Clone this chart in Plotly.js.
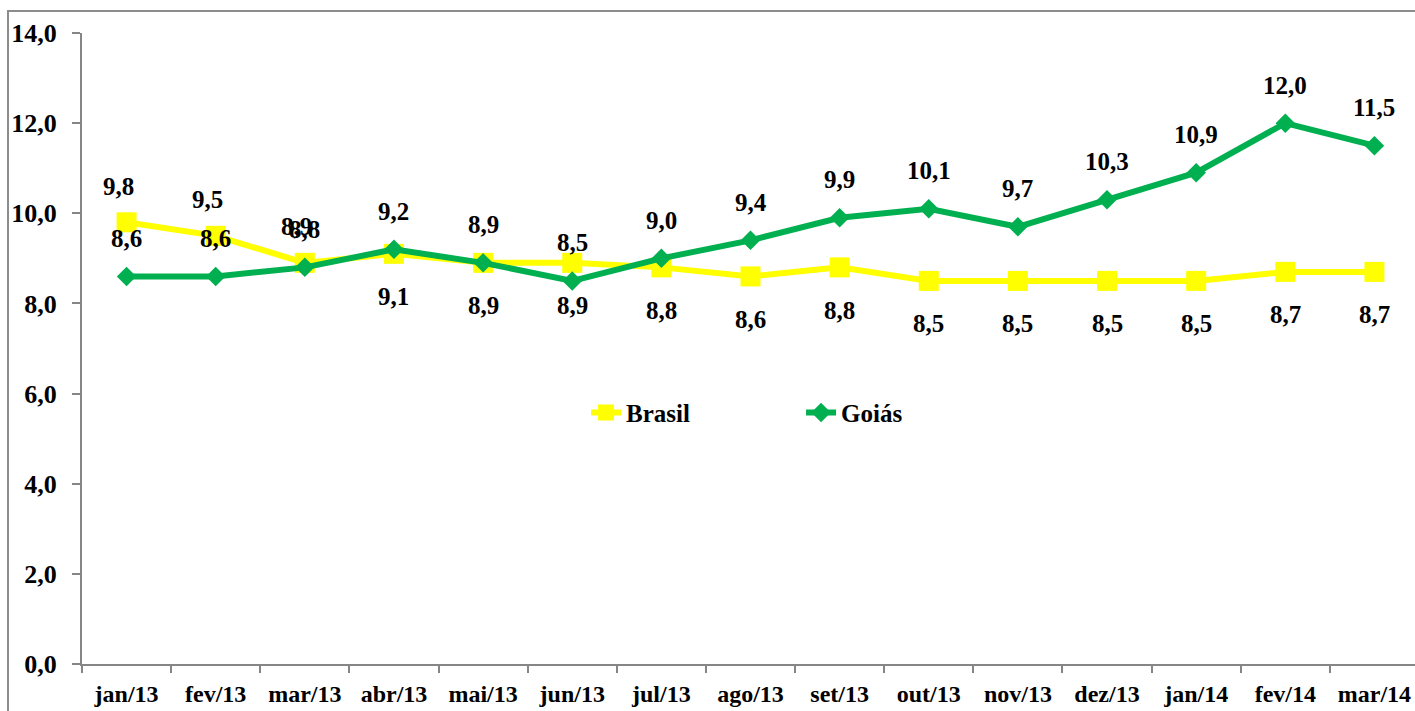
<!DOCTYPE html>
<html><head><meta charset="utf-8">
<script src="https://cdn.plot.ly/plotly-3.0.1.min.js"></script>
<style>
html,body{margin:0;padding:0;overflow:hidden;background:#fff;width:1415px;height:711px;}
#frame{position:absolute;left:7px;top:10px;width:1430px;height:740px;border:2px solid #8c8c8c;box-sizing:border-box;}
#chart{position:absolute;left:0;top:0;}
</style></head>
<body>
<div id="frame"></div>
<div id="chart"></div>
<script>
const months = ["jan/13","fev/13","mar/13","abr/13","mai/13","jun/13","jul/13","ago/13","set/13","out/13","nov/13","dez/13","jan/14","fev/14","mar/14"];
const brasil = [9.8,9.5,8.9,9.1,8.9,8.9,8.8,8.6,8.8,8.5,8.5,8.5,8.5,8.7,8.7];
const goias  = [8.6,8.6,8.8,9.2,8.9,8.5,9.0,9.4,9.9,10.1,9.7,10.3,10.9,12.0,11.5];
const brasilLabelAbove = [true,true,true,false,false,false,false,false,false,false,false,false,false,false,false];
const yTicks = [0,2,4,6,8,10,12,14];

const FONT = "Liberation Serif";
const fmt = v => v.toFixed(1).replace('.', ',');
const b = s => "<b>" + s + "</b>";

const traces = [
  {x: months, y: brasil, name: b("Brasil"), type: "scatter", mode: "lines+markers",
   line: {color: "#FFFF00", width: 6}, marker: {symbol: "square", size: 20, color: "#FFFF00"}},
  {x: months, y: goias, name: b("Goiás"), type: "scatter", mode: "lines+markers",
   line: {color: "#00B050", width: 6}, marker: {symbol: "diamond", size: 15, color: "#00B050"}}
];

const annotations = [];
months.forEach((m, i) => {
  const above = brasilLabelAbove[i];
  annotations.push({x: m, y: brasil[i], text: b(fmt(brasil[i])), showarrow: false,
    xshift: above ? -8 : 0, yshift: above ? 36 : -43,
    font: {family: FONT, size: 25, color: "#000"}});
  annotations.push({x: m, y: goias[i], text: b(fmt(goias[i])), showarrow: false,
    xshift: 0, yshift: 38,
    font: {family: FONT, size: 25, color: "#000"}});
});

const layout = {
  width: 1430, height: 740,
  margin: {l: 82, r: 11, t: 33, b: 76},
  paper_bgcolor: "rgba(0,0,0,0)", plot_bgcolor: "rgba(0,0,0,0)",
  font: {family: FONT, size: 24, color: "#000"},
  showlegend: true,
  legend: {orientation: "h", x: 0.377, y: 0.398, xanchor: "left", yanchor: "middle",
    font: {family: FONT, size: 25, color: "#000"}, bgcolor: "rgba(0,0,0,0)",
    entrywidth: 170, traceorder: "normal"},
  xaxis: {type: "category", range: [-0.5, 14.5], showgrid: false, zeroline: false,
    showline: true, linecolor: "#868686", linewidth: 2,
    ticks: "outside", tickson: "boundaries", ticklen: 7, tickcolor: "#868686", tickwidth: 2,
    tickvals: months, ticktext: months.map(b),
    tickfont: {family: FONT, size: 24, color: "#000"}, ticklabelstandoff: 7},
  yaxis: {range: [0, 14], showgrid: false, zeroline: false,
    showline: true, linecolor: "#868686", linewidth: 2,
    ticks: "outside", ticklen: 8, tickcolor: "#868686", tickwidth: 2,
    tickvals: yTicks, ticktext: yTicks.map(v => b(fmt(v))),
    tickfont: {family: FONT, size: 26, color: "#000"}, ticklabelstandoff: 10},
  annotations: annotations
};

Plotly.newPlot("chart", traces, layout, {displayModeBar: false, staticPlot: true});
</script>
</body></html>
